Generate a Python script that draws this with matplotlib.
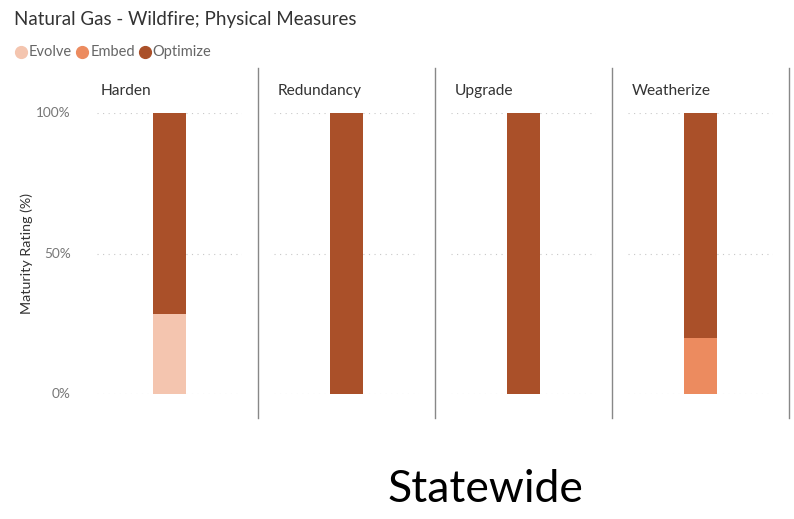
import matplotlib.pyplot as plt
from matplotlib.lines import Line2D

categories = ["Harden", "Redundancy", "Upgrade", "Weatherize"]
series = ["Evolve", "Embed", "Optimize"]
evolve   = [28.6, 0.0, 0.0, 0.0]
embed    = [0.0, 0.0, 0.0, 20.0]
optimize = [71.4, 100.0, 100.0, 80.0]
y_ticks = [0, 50, 100]
y_tick_labels = ["0%", "50%", "100%"]

COLORS = {"Evolve": "#F4C5AF", "Embed": "#EC8B5F", "Optimize": "#AA5029"}

W, H = 794, 519
fig = plt.figure(figsize=(W / 100, H / 100), dpi=100)
fig.patch.set_facecolor("white")
plt.rcParams["font.family"] = ["Lato", "DejaVu Sans"]

def fx(px):
    return px / W

def fy(py):
    return 1 - py / H

PANEL_X0 = 81
PANEL_W = 177
Y_TOP, Y_BOT = 113, 394

values = {"Evolve": evolve, "Embed": embed, "Optimize": optimize}

for i, cat in enumerate(categories):
    left = PANEL_X0 + i * PANEL_W
    ax = fig.add_axes([fx(left + 16), fy(Y_BOT), (PANEL_W - 32) / W, (Y_BOT - Y_TOP) / H])
    ax.set_xlim(-0.5, 0.5)
    ax.set_ylim(0, 100)
    bottom = 0.0
    for s in series:
        v = values[s][i]
        if v > 0:
            ax.bar(0, v, width=0.225, bottom=bottom, color=COLORS[s], zorder=2)
        bottom += v
    for t in y_ticks:
        ax.axhline(t, color="#c8c8c8", linestyle=(0, (1, 4)), linewidth=0.8, zorder=1)
    for sp in ax.spines.values():
        sp.set_visible(False)
    ax.set_xticks([])
    ax.set_yticks([])
    ax.patch.set_alpha(0)
    fig.text(fx(left + 20), fy(91), cat, fontsize=11.2, color="#333333", va="center", ha="left")
    # divider on right edge of panel
    fig.add_artist(Line2D([fx(left + PANEL_W)] * 2, [fy(68), fy(418)], color="#888888", linewidth=1.0))

# y tick labels
for t, lab in zip(y_ticks, y_tick_labels):
    py = Y_BOT - (Y_BOT - Y_TOP) * t / 100
    fig.text(fx(71), fy(py), lab, fontsize=9.8, color="#777777", ha="right", va="center")

fig.text(fx(27), fy(253), "Maturity Rating (%)", fontsize=10.3, color="#333333",
         rotation=90, ha="center", va="center")

fig.text(fx(14), fy(19), "Natural Gas - Wildfire; Physical Measures", fontsize=13.5,
         color="#333333", ha="left", va="center")

# legend
lx = 15
for s in series:
    fig.add_artist(Line2D([fx(lx + 6)], [fy(52)], marker="o", markersize=8.5,
                          color=COLORS[s], linestyle="none"))
    t = fig.text(fx(lx + 14), fy(52), s, fontsize=10.5, color="#666666", ha="left", va="center")
    fig.canvas.draw()
    bb = t.get_window_extent()
    lx = bb.x1 + 4

fig.text(fx(485), fy(490), "Statewide", fontsize=32, color="black", ha="center", va="center")

fig.savefig("out.png", dpi=100)
